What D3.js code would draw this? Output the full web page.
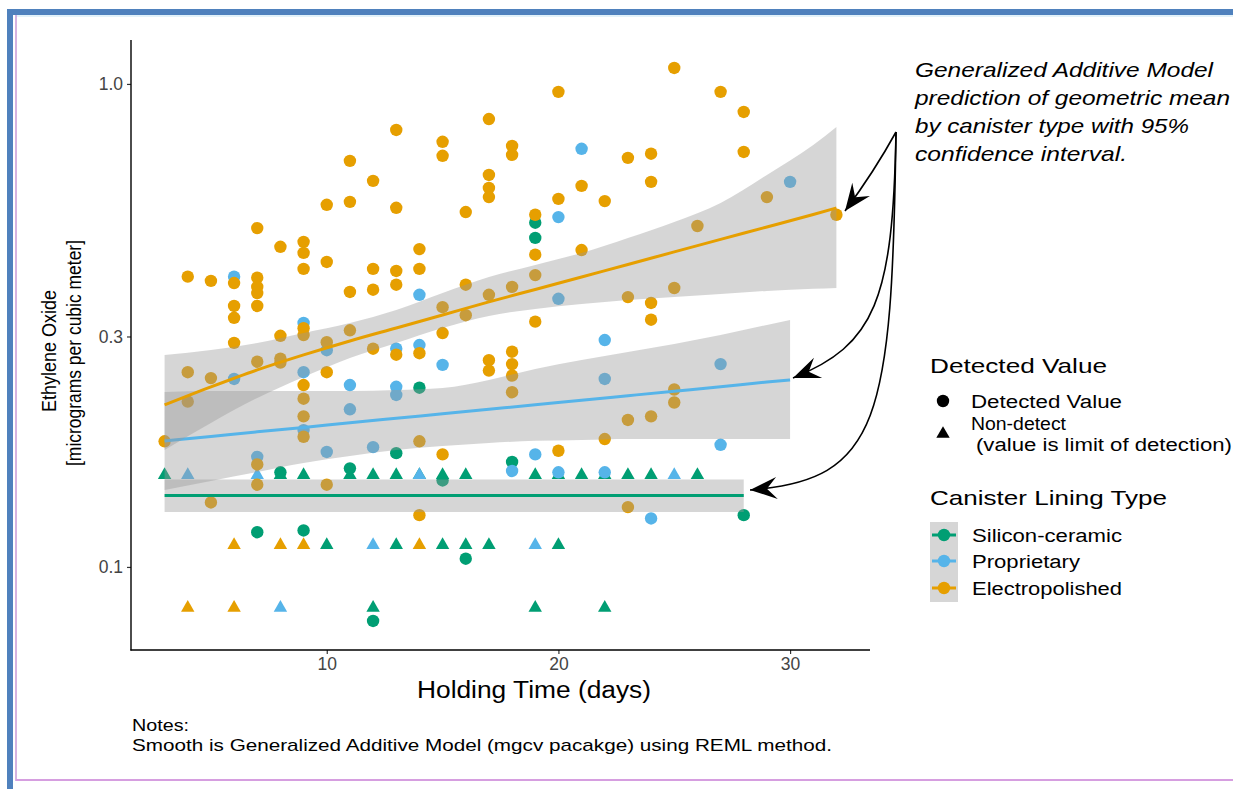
<!DOCTYPE html>
<html>
<head>
<meta charset="utf-8">
<script src="https://cdn.jsdelivr.net/npm/d3@7"></script>
<style>
  html, body { margin: 0; padding: 0; background: #ffffff; }
  svg { display: block; }
</style>
</head>
<body>
<svg id="chart" width="1233" height="789"></svg>
<script>
// ---- data -----------------------------------------------------------------
const liningTypes = ["Silicon-ceramic", "Proprietary", "Electropolished"];
const detectTypes = ["Detected Value", "Non-detect"];

const xTicks = [10, 20, 30];
const yTicks = [0.1, 0.3, 1.0];
const yTickLabels = ["0.1", "0.3", "1.0"];

// [holding time (days), ethylene oxide (ug/m3)] - detected samples
const silDetected = [
  [7, 0.118], [8, 0.157], [9, 0.119], [11, 0.160], [12, 0.0773], [13, 0.172],
  [14, 0.235], [15, 0.151], [16, 0.104], [18, 0.165], [19, 0.516], [19, 0.480],
  [28, 0.128]
];
// non-detects, plotted at the limit of detection
const silNonDetect = [
  [3, 0.155], [8, 0.155], [9, 0.155], [11, 0.155], [12, 0.155], [13, 0.155],
  [14, 0.155], [15, 0.155], [16, 0.155], [19, 0.155], [20, 0.155], [21, 0.155],
  [22, 0.155], [23, 0.155], [24, 0.155], [26, 0.155],
  [10, 0.111], [13, 0.111], [15, 0.111], [16, 0.111], [17, 0.111], [20, 0.111],
  [12, 0.0823], [19, 0.0823], [22, 0.0823]
];
const propDetected = [
  [6, 0.399], [6, 0.245], [7, 0.169], [9, 0.320], [9, 0.253], [9, 0.192],
  [10, 0.281], [10, 0.173], [11, 0.238], [11, 0.212], [12, 0.177],
  [13, 0.283], [13, 0.236], [13, 0.227], [14, 0.366], [14, 0.288], [15, 0.262],
  [18, 0.158], [19, 0.171], [20, 0.530], [20, 0.359], [20, 0.157], [21, 0.734],
  [22, 0.295], [22, 0.245], [22, 0.157], [24, 0.126], [27, 0.263], [27, 0.179],
  [30, 0.627]
];
const propNonDetect = [
  [4, 0.155], [7, 0.155], [14, 0.155], [25, 0.155],
  [12, 0.111], [19, 0.111], [8, 0.0823]
];
const elecDetected = [
  [3, 0.182],
  [4, 0.399], [4, 0.253], [4, 0.220],
  [5, 0.391], [5, 0.246], [5, 0.136],
  [6, 0.387], [6, 0.347], [6, 0.328], [6, 0.291],
  [7, 0.503], [7, 0.397], [7, 0.380], [7, 0.369], [7, 0.347], [7, 0.266], [7, 0.163], [7, 0.148],
  [8, 0.460], [8, 0.301], [8, 0.270], [8, 0.265],
  [9, 0.471], [9, 0.447], [9, 0.414], [9, 0.312], [9, 0.302], [9, 0.238], [9, 0.223], [9, 0.205], [9, 0.186],
  [10, 0.562], [10, 0.428], [10, 0.292], [10, 0.253], [10, 0.148],
  [11, 0.693], [11, 0.570], [11, 0.371], [11, 0.309],
  [12, 0.630], [12, 0.414], [12, 0.375], [12, 0.283],
  [13, 0.803], [13, 0.554], [13, 0.410], [13, 0.384], [13, 0.275],
  [14, 0.455], [14, 0.414], [14, 0.277], [14, 0.182], [14, 0.128],
  [15, 0.759], [15, 0.710], [15, 0.345], [15, 0.305], [15, 0.171],
  [16, 0.543], [16, 0.384], [16, 0.332],
  [17, 0.846], [17, 0.648], [17, 0.609], [17, 0.583], [17, 0.366], [17, 0.268], [17, 0.255],
  [18, 0.744], [18, 0.713], [18, 0.380], [18, 0.279], [18, 0.263], [18, 0.249], [18, 0.230],
  [19, 0.536], [19, 0.443], [19, 0.402], [19, 0.322],
  [20, 0.963], [20, 0.578], [20, 0.174],
  [21, 0.615], [21, 0.453],
  [22, 0.572], [22, 0.184],
  [23, 0.703], [23, 0.362], [23, 0.2015], [23, 0.133],
  [24, 0.717], [24, 0.627], [24, 0.352], [24, 0.325], [24, 0.205],
  [25, 1.079], [25, 0.378], [25, 0.233], [25, 0.219],
  [26, 0.508], [27, 0.963], [28, 0.875], [28, 0.723], [29, 0.583], [32, 0.536]
];
const elecNonDetect = [
  [6, 0.111], [8, 0.111], [9, 0.111], [14, 0.111], [4, 0.0823], [6, 0.0823]
];

// GAM predictions of the geometric mean with 95% confidence limits
const silFitDays = [3, 28];
const silFit = [0.1406, 0.1406];
const silLower = [0.1300, 0.1300];
const silUpper = [0.1518, 0.1518];

const propFitDays = [3, 5, 7, 9, 11, 13, 15, 17, 19, 21, 23, 25, 27, 29, 30];
const propFit = [0.1823, 0.1863, 0.1904, 0.1945, 0.1988, 0.2031, 0.2075, 0.2120,
                 0.2166, 0.2214, 0.2262, 0.2311, 0.2361, 0.2414, 0.2439];
const propLower = [0.1443, 0.1507, 0.1573, 0.1642, 0.1697, 0.1747, 0.1780, 0.1806,
                   0.1824, 0.1832, 0.1841, 0.1841, 0.1841, 0.1841, 0.1841];
const propUpper = [0.2303, 0.2314, 0.2314, 0.2314, 0.2314, 0.2325, 0.2347, 0.2439,
                   0.2570, 0.2683, 0.2787, 0.2895, 0.3021, 0.3170, 0.3245];

const elecFitDays = [3, 5, 7, 9, 11, 13, 15, 17, 19, 21, 23, 25, 27, 29, 31, 32];
const elecFit = [0.2165, 0.2359, 0.2558, 0.2748, 0.2937, 0.3124, 0.3323, 0.3538,
                 0.3754, 0.3985, 0.4229, 0.4490, 0.4766, 0.5057, 0.5368, 0.5537];
const elecLower = [0.1746, 0.1987, 0.2238, 0.2474, 0.2709, 0.2909, 0.3124, 0.3309,
                   0.3421, 0.3503, 0.3571, 0.3622, 0.3675, 0.3728, 0.3765, 0.3781];
const elecUpper = [0.2748, 0.2813, 0.2909, 0.3050, 0.3199, 0.3404, 0.3692, 0.3985,
                   0.4220, 0.4468, 0.4799, 0.5180, 0.5670, 0.6481, 0.7476, 0.8147];

const annotationLines = [
  "Generalized Additive Model",
  "prediction of geometric mean",
  "by canister type with 95%",
  "confidence interval."
];
const xTitle = "Holding Time (days)";
const yTitle = ["Ethylene Oxide", "[micrograms per cubic meter]"];
const notes = ["Notes:", "Smooth is Generalized Additive Model (mgcv pacakge) using REML method."];

// ---- styling ----------------------------------------------------------------
const colors = { "Silicon-ceramic": "#009E73", "Proprietary": "#56B4E9", "Electropolished": "#E69F00" };
const FONT = "'Liberation Sans', Arial, sans-serif";

const groups = [
  { name: liningTypes[0], det: silDetected, nd: silNonDetect, days: silFitDays, fit: silFit, lo: silLower, hi: silUpper },
  { name: liningTypes[1], det: propDetected, nd: propNonDetect, days: propFitDays, fit: propFit, lo: propLower, hi: propUpper },
  { name: liningTypes[2], det: elecDetected, nd: elecNonDetect, days: elecFitDays, fit: elecFit, lo: elecLower, hi: elecUpper }
];

const svg = d3.select("#chart");

// page frame
svg.append("rect").attr("x", 0).attr("y", 0).attr("width", 1233).attr("height", 789).attr("fill", "#ffffff");
svg.append("rect").attr("x", 7).attr("y", 9).attr("width", 1226).attr("height", 6).attr("fill", "#4f81bd");
svg.append("rect").attr("x", 7).attr("y", 9).attr("width", 6).attr("height", 780).attr("fill", "#4f81bd");
svg.append("line").attr("x1", 16).attr("x2", 1233).attr("y1", 16).attr("y2", 16).attr("stroke", "#d8eef8").attr("stroke-width", 1.5);
svg.append("line").attr("x1", 16).attr("x2", 16).attr("y1", 15).attr("y2", 781).attr("stroke", "#c99ad6").attr("stroke-width", 1.5);
svg.append("line").attr("x1", 16).attr("x2", 1233).attr("y1", 780).attr("y2", 780).attr("stroke", "#d69ee0").attr("stroke-width", 2);

// ---- scales ---------------------------------------------------------------
const panel = { left: 131, right: 870, top: 40, bottom: 650 };
const x = d3.scaleLinear().domain([1.55, 33.45]).range([panel.left, panel.right]);
const y = d3.scaleLog().domain([0.0673, 1.233]).range([panel.bottom, panel.top]);

const plot = svg.append("g");

// points
const circleSym = d3.symbol().type(d3.symbolCircle).size(Math.PI * 6.2 * 6.2);
const triSym = d3.symbol().type(d3.symbolTriangle).size(78);

groups.forEach(g => {
  plot.append("g").selectAll("path").data(g.det).join("path")
    .attr("d", circleSym)
    .attr("transform", d => `translate(${x(d[0])},${y(d[1])})`)
    .attr("fill", colors[g.name]);
  plot.append("g").selectAll("path").data(g.nd).join("path")
    .attr("d", triSym)
    .attr("transform", d => `translate(${x(d[0])},${y(d[1])})`)
    .attr("fill", colors[g.name]);
});

// smooths: ribbon then fitted line, per lining type
const band = d3.area().curve(d3.curveMonotoneX).x(d => x(d.day)).y0(d => y(d.lo)).y1(d => y(d.hi));
const fitLine = d3.line().curve(d3.curveMonotoneX).x(d => x(d.day)).y(d => y(d.fit));
groups.forEach(g => {
  const rows = g.days.map((day, i) => ({ day, fit: g.fit[i], lo: g.lo[i], hi: g.hi[i] }));
  plot.append("path").datum(rows).attr("d", band).attr("fill", "#999999").attr("fill-opacity", 0.4);
  plot.append("path").datum(rows).attr("d", fitLine).attr("fill", "none")
    .attr("stroke", colors[g.name]).attr("stroke-width", 3);
});

// ---- axes -------------------------------------------------------------------
const xAxis = d3.axisBottom(x).tickValues(xTicks).tickSize(4).tickPadding(4).tickFormat(d3.format("d"));
const yAxis = d3.axisLeft(y).tickValues(yTicks).tickSize(4).tickPadding(4).tickFormat((d, i) => yTickLabels[i]);

const gx = svg.append("g").attr("transform", `translate(0,${panel.bottom})`).call(xAxis);
const gy = svg.append("g").attr("transform", `translate(${panel.left},0)`).call(yAxis);
[gx, gy].forEach(g => {
  g.select(".domain").remove();
  g.selectAll(".tick line").attr("stroke", "#333333").attr("stroke-width", 1.2);
  g.selectAll(".tick text").attr("fill", "#444444").style("font-family", FONT).style("font-size", "17.5px");
});
svg.append("line").attr("x1", panel.left).attr("x2", panel.left).attr("y1", panel.top).attr("y2", panel.bottom + 0.6)
  .attr("stroke", "#000").attr("stroke-width", 1.4);
svg.append("line").attr("x1", panel.left - 0.6).attr("x2", panel.right).attr("y1", panel.bottom).attr("y2", panel.bottom)
  .attr("stroke", "#000").attr("stroke-width", 1.4);

// text helper: fixed rendered width
function label(parent, str, px, py, size, width, extra) {
  const t = parent.append("text").attr("x", px).attr("y", py).text(str)
    .style("font-family", FONT).style("font-size", size + "px").attr("fill", "#000");
  if (width) t.attr("textLength", width).attr("lengthAdjust", "spacingAndGlyphs");
  if (extra) extra(t);
  return t;
}

label(svg, xTitle, 417, 698, 23, 234);
const yt = svg.append("g");
label(yt, yTitle[0], 0, 0, 21, 122, t => t.attr("text-anchor", "middle").attr("transform", "translate(56,351) rotate(-90)"));
label(yt, yTitle[1], 0, 0, 21, 226, t => t.attr("text-anchor", "middle").attr("transform", "translate(81,353) rotate(-90)"));

// notes
label(svg, notes[0], 132, 731, 17, 57);
label(svg, notes[1], 132, 751, 17, 700);

// annotation
annotationLines.forEach((s, i) => {
  label(svg, s, 915, 77 + i * 28, 21, [298, 315, 274, 212][i], t => t.style("font-style", "italic"));
});

// arrows
const defs = svg.append("defs");
defs.append("marker").attr("id", "head").attr("markerUnits", "userSpaceOnUse")
  .attr("markerWidth", 34).attr("markerHeight", 30).attr("refX", 0).attr("refY", 0)
  .attr("viewBox", "-30 -15 34 30").attr("orient", "auto")
  .append("path").attr("d", "M0,0 L-27,-11 L-17,0 L-27,11 Z").attr("fill", "#000");
const arrowPaths = [
  "M896,132 Q874,172 845,211",
  "M896,132 C893,300 875,345 793,378",
  "M896,132 C892,420 880,480 750,490"
];
svg.append("g").selectAll("path").data(arrowPaths).join("path")
  .attr("d", d => d).attr("fill", "none").attr("stroke", "#000").attr("stroke-width", 1.6)
  .attr("marker-end", "url(#head)");

// ---- legends ----------------------------------------------------------------
const lg = svg.append("g");
label(lg, "Detected Value", 930, 373, 21, 177);
lg.append("path").attr("d", circleSym).attr("transform", "translate(943,401)").attr("fill", "#000");
lg.append("path").attr("d", triSym).attr("transform", "translate(943,434)").attr("fill", "#000");
label(lg, detectTypes[0], 971, 408, 18, 151);
label(lg, detectTypes[1], 971, 430, 18, 95);
label(lg, "(value is limit of detection)", 976, 451, 18, 256);

label(lg, "Canister Lining Type", 930, 505, 21, 237);
lg.append("rect").attr("x", 930).attr("y", 522).attr("width", 28).attr("height", 80).attr("fill", "#999999").attr("fill-opacity", 0.4);
const keyY = [535, 561, 588];
const keyW = [150, 108, 150];
liningTypes.forEach((name, i) => {
  lg.append("line").attr("x1", 932).attr("x2", 956).attr("y1", keyY[i]).attr("y2", keyY[i])
    .attr("stroke", colors[name]).attr("stroke-width", 3);
  lg.append("path").attr("d", circleSym).attr("transform", `translate(944,${keyY[i]})`).attr("fill", colors[name]);
  label(lg, name, 972, keyY[i] + 7, 18, keyW[i]);
});
</script>
</body>
</html>
